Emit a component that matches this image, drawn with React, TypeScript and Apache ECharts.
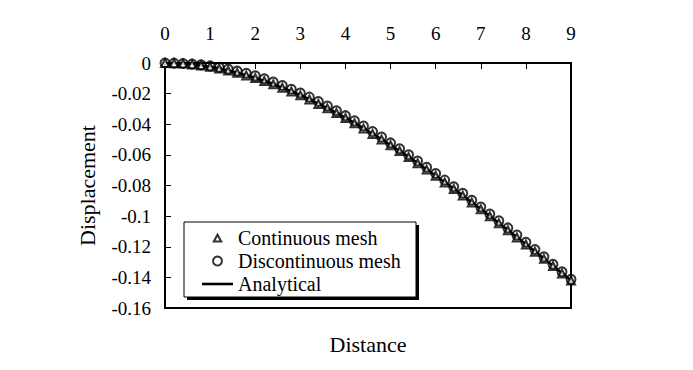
import React, { useEffect, useRef } from "react";
import * as echarts from "echarts";

const distance = [
  0, 0.2, 0.4, 0.6, 0.8, 1.0, 1.2, 1.4, 1.6, 1.8, 2.0, 2.2, 2.4, 2.6, 2.8, 3.0,
  3.2, 3.4, 3.6, 3.8, 4.0, 4.2, 4.4, 4.6, 4.8, 5.0, 5.2, 5.4, 5.6, 5.8, 6.0,
  6.2, 6.4, 6.6, 6.8, 7.0, 7.2, 7.4, 7.6, 7.8, 8.0, 8.2, 8.4, 8.6, 8.8, 9.0,
];

const analytical = [
  0, -0.0001, -0.0004, -0.0009, -0.0016, -0.0025, -0.0036, -0.0049, -0.0063,
  -0.008, -0.0097, -0.0117, -0.0138, -0.0161, -0.0185, -0.021, -0.0237,
  -0.0266, -0.0295, -0.0326, -0.0358, -0.0392, -0.0426, -0.0462, -0.0498,
  -0.0536, -0.0574, -0.0613, -0.0654, -0.0695, -0.0736, -0.0779, -0.0822,
  -0.0865, -0.091, -0.0954, -0.1, -0.1045, -0.1091, -0.1138, -0.1184, -0.1231,
  -0.1278, -0.1325, -0.1373, -0.142,
];

const continuousMesh = [
  0, -0.0001, -0.0004, -0.0009, -0.0016, -0.0025, -0.0036, -0.0049, -0.0064,
  -0.0081, -0.0098, -0.0118, -0.0139, -0.0162, -0.0186, -0.0211, -0.0238,
  -0.0267, -0.0296, -0.0327, -0.0359, -0.0393, -0.0427, -0.0463, -0.0499,
  -0.0537, -0.0575, -0.0614, -0.0655, -0.0696, -0.0737, -0.078, -0.0823,
  -0.0866, -0.0911, -0.0955, -0.1001, -0.1046, -0.1092, -0.1139, -0.1185,
  -0.1232, -0.1279, -0.1326, -0.1374, -0.142,
];

const discontinuousMesh = [
  0, -0.0001, -0.0003, -0.0007, -0.0012, -0.0019, -0.0028, -0.0039, -0.0052,
  -0.0067, -0.0084, -0.0103, -0.0124, -0.0147, -0.0171, -0.0196, -0.0223,
  -0.0252, -0.0281, -0.0312, -0.0344, -0.0378, -0.0412, -0.0448, -0.0484,
  -0.0522, -0.056, -0.0599, -0.064, -0.0681, -0.0722, -0.0765, -0.0808,
  -0.0851, -0.0896, -0.094, -0.0986, -0.1031, -0.1077, -0.1124, -0.1171,
  -0.1218, -0.1266, -0.1314, -0.1363, -0.1413,
];

const seriesNames = ["Continuous mesh", "Discontinuous mesh", "Analytical"];
const xTitle = "Distance";
const yTitle = "Displacement";

const FONT = "Liberation Serif";

export default function App() {
  const ref = useRef<HTMLDivElement>(null);

  useEffect(() => {
    if (!ref.current) return;
    const chart = echarts.init(ref.current, null, { renderer: "svg" });
    const zip = (ys: number[]) => distance.map((x, i) => [x, ys[i]]);
    const tickRich = { t: { fontFamily: FONT, fontSize: 19, color: "#000" } };

    chart.setOption({
      animation: false,
      backgroundColor: "#fff",
      grid: {
        left: 165,
        right: 122,
        top: 63,
        bottom: 62,
        show: true,
        borderColor: "#000",
        borderWidth: 2,
        backgroundColor: "transparent",
      },
      xAxis: [
        {
          type: "value",
          position: "top",
          min: 0,
          max: 9,
          interval: 1,
          axisLine: { show: true, lineStyle: { color: "#000", width: 2 } },
          axisTick: { show: true, inside: true, length: 6, lineStyle: { color: "#000", width: 1 } },
          axisLabel: {
            fontFamily: FONT,
            fontSize: 19,
            margin: 20,
            formatter: (v: number) => `{t|${v}}`,
            rich: tickRich,
          },
          splitLine: { show: false },
        },
        {
          type: "value",
          position: "bottom",
          min: 0,
          max: 9,
          interval: 1,
          name: xTitle,
          nameLocation: "middle",
          nameGap: 25,
          nameTextStyle: { color: "#000", fontFamily: "serif", fontSize: 22 },
          axisLine: { show: false },
          axisTick: { show: false },
          axisLabel: { show: false },
          splitLine: { show: false },
        },
      ],
      yAxis: {
        type: "value",
        min: -0.16,
        max: 0,
        interval: 0.02,
        name: yTitle,
        nameLocation: "middle",
        nameGap: 67,
        nameRotate: 90,
        nameTextStyle: { color: "#000", fontFamily: "serif", fontSize: 22 },
        axisLine: { show: true, lineStyle: { color: "#000", width: 2 } },
        axisTick: { show: true, inside: true, length: 6, lineStyle: { color: "#000", width: 1 } },
        axisLabel: {
          fontFamily: FONT,
          fontSize: 19,
          margin: 14,
          formatter: (v: number) => `{t|${v}}`,
          rich: tickRich,
        },
        splitLine: { show: false },
      },
      legend: {
        orient: "vertical",
        left: 196,
        top: 223,
        z: 20,
        itemWidth: 31,
        itemHeight: 9,
        itemGap: 3,
        symbolKeepAspect: true,
        selectedMode: false,
        formatter: (name: string) => `{l|${name}}`,
        textStyle: {
          fontFamily: FONT,
          fontSize: 20,
          rich: { l: { fontFamily: FONT, fontSize: 20, color: "#000" } },
        },
        data: [
          {
            name: seriesNames[0],
            icon: "path://M0 0 L0 0 M31 9 L31 9 M11.8 8 L15.5 1.2 L19.2 8 Z",
            itemStyle: { color: "#fff", borderColor: "#000", borderWidth: 2 },
          },
          {
            name: seriesNames[1],
            icon: "circle",
            itemStyle: { color: "#fff", borderColor: "#000", borderWidth: 2 },
          },
          {
            name: seriesNames[2],
            icon: "path://M0 0 H31 V2.6 H0 Z",
            itemStyle: { color: "#000", borderWidth: 0 },
          },
        ],
      },
      graphic: [
        {
          type: "rect",
          shape: { x: 0, y: 0, width: 693, height: 3 },
          style: { fill: "#333" },
          z: 5,
        },
        {
          type: "rect",
          shape: { x: 187, y: 225, width: 232, height: 75 },
          style: { fill: "#000" },
          z: 5,
        },
        {
          type: "rect",
          shape: { x: 184, y: 222, width: 232, height: 75 },
          style: { fill: "#fff", stroke: "#000", lineWidth: 1 },
          z: 6,
        },
      ],
      series: [
        {
          name: seriesNames[2],
          type: "line",
          data: zip(analytical),
          smooth: true,
          showSymbol: false,
          symbol: "none",
          lineStyle: { color: "#000", width: 2.5 },
          itemStyle: { color: "#000" },
          z: 2,
        },
        {
          name: seriesNames[0],
          type: "scatter",
          data: zip(continuousMesh),
          symbol: "triangle",
          symbolSize: 8,
          itemStyle: { color: "#fff", borderColor: "#000", borderWidth: 2 },
          z: 3,
        },
        {
          name: seriesNames[1],
          type: "scatter",
          data: zip(discontinuousMesh),
          symbol: "circle",
          symbolSize: 9,
          itemStyle: { color: "transparent", borderColor: "#000", borderWidth: 2 },
          z: 4,
        },
      ],
    });

    return () => chart.dispose();
  }, []);

  return <div ref={ref} style={{ width: 693, height: 370, margin: -8 }} />;
}
